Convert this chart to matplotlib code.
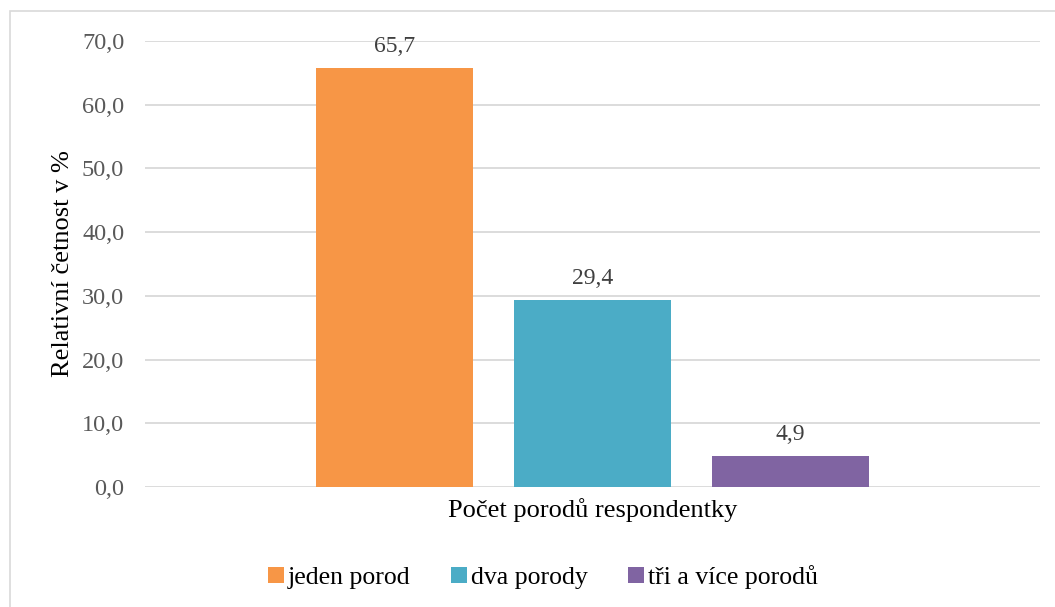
import matplotlib
matplotlib.use("Agg")
import matplotlib.pyplot as plt
from matplotlib.patches import Rectangle, Patch

# Data
series = ["jeden porod", "dva porody", "tři a více porodů"]
values = [65.7, 29.4, 4.9]
colors = ["#F79646", "#4BACC6", "#8064A2"]
yticks = [0, 10, 20, 30, 40, 50, 60, 70]

plt.rcParams["font.family"] = ["Liberation Serif", "DejaVu Serif"]

W, H = 1055, 607
fig = plt.figure(figsize=(W / 100, H / 100), dpi=100)

# chart-area border
fig.patches.append(Rectangle((10 / W, 0 - 0.01), 1.0, 1 - 11 / H + 0.01,
                             transform=fig.transFigure, fill=False,
                             edgecolor="#D9D9D9", linewidth=1.2, zorder=0))

ax = fig.add_axes([145 / W, 1 - 487 / H, (1040 - 145) / W, (487 - 41) / H])

bar_w = 157 / 895
step = 198 / 895
n = len(values)
for i, (name, v, c) in enumerate(zip(series, values, colors)):
    x = (i - (n - 1) / 2) * step
    ax.bar(x, v, width=bar_w, color=c, label=name, zorder=3)
    ax.annotate(f"{v:.1f}".replace(".", ","), (x, v), xytext=(0, 8),
                textcoords="offset points", ha="center", va="bottom",
                fontsize=17, color="#404040")

ax.set_xlim(-0.5, 0.5)
ax.set_ylim(0, 70)
ax.set_yticks(yticks)
ax.set_yticklabels([f"{t:.1f}".replace(".", ",") for t in yticks],
                   fontsize=17.5, color="#595959")
ax.tick_params(axis="y", length=0, pad=15)
ax.set_xticks([])
ax.grid(axis="y", color="#D9D9D9", linewidth=1.3, zorder=0)
for s in ax.spines.values():
    s.set_visible(False)

ax.set_ylabel("Relativní četnost v %", fontsize=19, color="black", labelpad=6)
ax.set_xlabel("Počet porodů respondentky", fontsize=19, color="black", labelpad=8)

handles = [Patch(facecolor=c, edgecolor="none") for c in colors]
fig.legend(handles, series, loc="center", bbox_to_anchor=(543 / W, 1 - 577 / H),
           ncol=3, frameon=False, fontsize=18.5, handlelength=0.6, handleheight=0.6,
           handletextpad=0.15, columnspacing=1.6)

fig.savefig("out.png", dpi=100, facecolor="white")
